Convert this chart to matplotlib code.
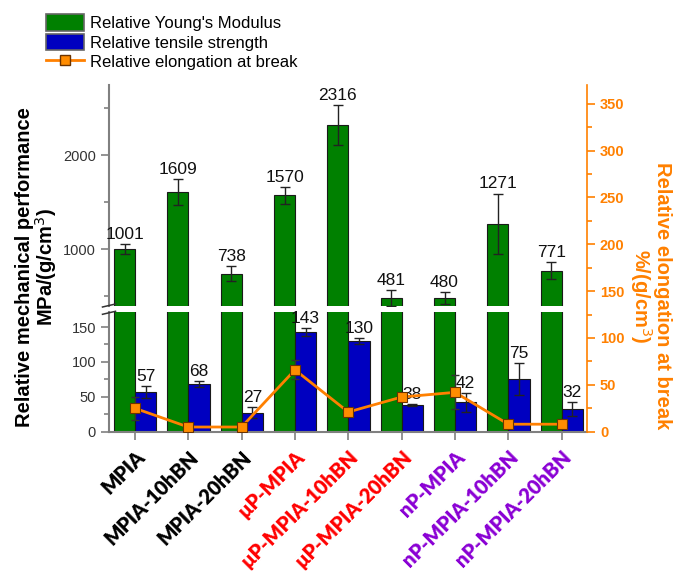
import matplotlib
matplotlib.use("Agg")
import matplotlib.pyplot as plt
import matplotlib.transforms as mtransforms
import numpy as np
from matplotlib.lines import Line2D
from matplotlib.patches import Patch

plt.rcParams['font.family'] = ['Liberation Sans', 'DejaVu Sans']

# ---- data ----
samples = ["MPIA", "MPIA-10hBN", "MPIA-20hBN",
           "µP-MPIA", "µP-MPIA-10hBN", "µP-MPIA-20hBN",
           "nP-MPIA", "nP-MPIA-10hBN", "nP-MPIA-20hBN"]
sample_colors = ["black"] * 3 + ["#FF0000"] * 3 + ["#8A00D4"] * 3

modulus = [1001, 1609, 738, 1570, 2316, 481, 480, 1271, 771]
modulus_err = [57, 140, 78, 93, 212, 85, 60, 320, 88]
strength = [57, 68, 27, 143, 130, 38, 42, 75, 32]
strength_err = [9, 4.5, 8, 6, 4, 1, 14, 23, 10]
elongation = [25, 5, 5, 66, 21, 37, 42, 8, 8]
elongation_err = [12, 1.5, 1.5, 10, 2, 1, 18, 1, 1]

# ---- styling ----
GREEN = "#008000"
BLUE = "#0000C0"
ORANGE = "#FF8000"
AXIS_GREY = "#808080"
TEXT_DARK = "#333333"

W_PX, H_PX = 676, 573
fig = plt.figure(figsize=(W_PX / 100, H_PX / 100), dpi=100)


def fx(px):
    return px / W_PX


def fy(py):
    return 1 - py / H_PX


x_left, x_right = 109.3, 586.7
y_top, y_gap_hi, y_gap_lo, y_bottom = 85, 306, 311.7, 431.7
w = fx(x_right) - fx(x_left)

ax_top = fig.add_axes([fx(x_left), fy(y_gap_hi), w, fy(y_top) - fy(y_gap_hi)])
ax_bot = fig.add_axes([fx(x_left), fy(y_bottom), w, fy(y_gap_lo) - fy(y_bottom)])
ax_el = fig.add_axes([fx(x_left), fy(y_bottom), w, fy(y_top) - fy(y_bottom)])

x = np.arange(len(samples))
xlim = (-0.48, 8.47)
bw_g, bw_b = 0.39, 0.40
err_kw = dict(fmt="none", ecolor="#222222", elinewidth=1, capsize=3.5, capthick=1)

for ax in (ax_top, ax_bot):
    ax.bar(x, modulus, width=-bw_g, align="edge", color=GREEN,
           edgecolor="#1a1a1a", linewidth=0.8, zorder=2)
    ax.set_xlim(*xlim)
    for s in ("top", "right"):
        ax.spines[s].set_visible(False)
    ax.spines["left"].set_color(AXIS_GREY)
    ax.spines["left"].set_linewidth(1.5)
    ax.tick_params(axis="y", which="both", direction="out", colors=AXIS_GREY,
                   labelcolor=TEXT_DARK, labelsize=10.5, width=1.2)
    ax.tick_params(axis="y", which="major", length=6)
    ax.tick_params(axis="y", which="minor", length=3.5)

# upper segment: Young's modulus
ax_top.errorbar(x - bw_g / 2, modulus, yerr=modulus_err, zorder=3, **err_kw)
for xi, v, e in zip(x, modulus, modulus_err):
    ax_top.annotate(f"{v}", (xi - bw_g / 2, v + e), xytext=(0, 1.5),
                    textcoords="offset points", ha="center", va="bottom",
                    fontsize=12.5, color="#111111", zorder=4)
ax_top.set_ylim(395, 2745)
ax_top.set_yticks([1000, 2000])
ax_top.set_yticks([500, 1500, 2500], minor=True)
ax_top.spines["bottom"].set_visible(False)
ax_top.set_xticks([])

# lower segment: tensile strength
ax_bot.bar(x, strength, width=bw_b, align="edge", color=BLUE,
           edgecolor="#1a1a1a", linewidth=0.8, zorder=2)
ax_bot.errorbar(x + bw_b / 2, strength, yerr=strength_err, zorder=3, **err_kw)
for xi, v, e in zip(x, strength, strength_err):
    ax_bot.annotate(f"{v}", (xi + bw_b / 2, v + e), xytext=(0, 1.5),
                    textcoords="offset points", ha="center", va="bottom",
                    fontsize=12.5, color="#111111", zorder=4)
ax_bot.set_ylim(0, 172)
ax_bot.set_yticks([0, 50, 100, 150])
ax_bot.set_yticks([25, 75, 125], minor=True)
ax_bot.spines["bottom"].set_color(AXIS_GREY)
ax_bot.spines["bottom"].set_linewidth(1.5)
ax_bot.set_xticks(x)
ax_bot.set_xticklabels(samples, rotation=45, ha="right", va="top",
                       rotation_mode="anchor", fontsize=14.5, fontweight="heavy",
                       family=["Lato", "Liberation Sans", "DejaVu Sans"])
shift = mtransforms.ScaledTranslation(-0.04, 0, fig.dpi_scale_trans)
for lbl, c in zip(ax_bot.get_xticklabels(), sample_colors):
    lbl.set_color(c)
    lbl.set_transform(lbl.get_transform() + shift)
ax_bot.tick_params(axis="x", direction="out", length=6, width=1.2,
                   color=AXIS_GREY, pad=5)

# elongation on the right axis
ax_el.set_zorder(5)
ax_el.patch.set_visible(False)
ax_el.set_xlim(*xlim)
ax_el.set_ylim(0, 370)
for s in ("top", "left", "bottom"):
    ax_el.spines[s].set_visible(False)
ax_el.spines["right"].set_color(ORANGE)
ax_el.spines["right"].set_linewidth(1.2)
ax_el.set_xticks([])
ax_el.yaxis.tick_right()
ax_el.set_yticks(np.arange(0, 351, 50))
ax_el.set_yticks(np.arange(25, 370, 50), minor=True)
ax_el.tick_params(axis="y", which="both", direction="out", colors=ORANGE,
                  labelsize=10.5, width=1.2)
ax_el.tick_params(axis="y", which="major", length=6)
ax_el.tick_params(axis="y", which="minor", length=3.5)
for lbl in ax_el.get_yticklabels():
    lbl.set_fontweight("bold")
ax_el.errorbar(x, elongation, yerr=elongation_err, fmt="none", ecolor="#333333",
               elinewidth=1, capsize=3, capthick=1, zorder=2)
ax_el.plot(x, elongation, color=ORANGE, lw=2, marker="s", markersize=6.5,
           markerfacecolor="#FF8C00", markeredgecolor="#6b3300",
           markeredgewidth=0.8, zorder=3)

# axis-break marks
for yc in (305.5, 312.8):
    fig.add_artist(Line2D([fx(102.5), fx(115.5)], [fy(yc + 1.5), fy(yc - 1.5)],
                          color="#333333", lw=1.1, transform=fig.transFigure))

# axis titles
fig.text(fx(37), fy(267), "Relative mechanical performance\nMPa/(g/cm$^3$)",
         rotation=90, ha="center", va="center", fontsize=14.5,
         fontweight="bold", color="black", linespacing=1.0)
fig.text(fx(650), fy(296), "Relative elongation at break\n%/(g/cm$^3$)",
         rotation=270, ha="center", va="center", fontsize=14.5,
         fontweight="bold", color=ORANGE, linespacing=1.0)

# legend
handles = [
    Patch(facecolor=GREEN, edgecolor="#666666", linewidth=1.2),
    Patch(facecolor=BLUE, edgecolor="#666666", linewidth=1.2),
    Line2D([], [], color=ORANGE, lw=2, marker="s", markersize=6.5,
           markerfacecolor="#FF8C00", markeredgecolor="#6b3300"),
]
labels = ["Relative Young's Modulus", "Relative tensile strength",
          "Relative elongation at break"]
fig.legend(handles, labels, loc="upper left", bbox_to_anchor=(fx(46), fy(14)),
           frameon=False, fontsize=12, handlelength=2.3, handleheight=1.15,
           labelspacing=0.17, handletextpad=0.35, borderpad=0, borderaxespad=0)

fig.savefig("out.png", dpi=100)
